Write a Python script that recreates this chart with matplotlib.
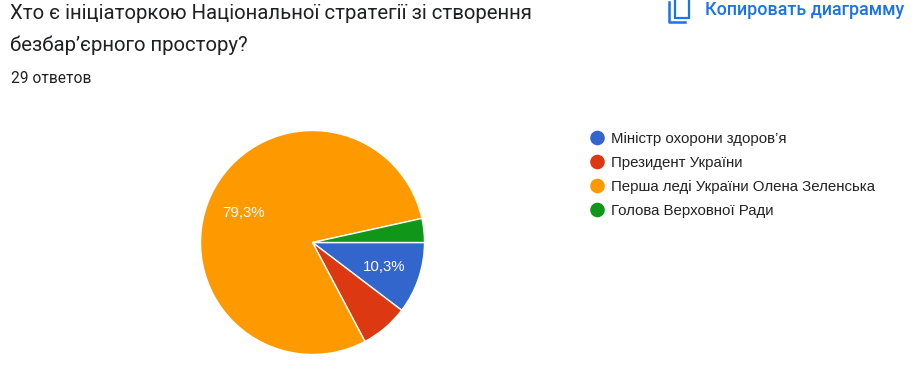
import matplotlib
matplotlib.use("Agg")
import matplotlib.pyplot as plt
from matplotlib.patches import Rectangle, Circle

categories = ["Міністр охорони здоров’я", "Президент України", "Перша леді України Олена Зеленська", "Голова Верховної Ради"]
counts = [3, 2, 23, 1]
colors = ["#3366CC", "#DC3912", "#FF9900", "#109618"]
labels = ["10,3%", "", "79,3%", ""]
title_lines = ["Хто є ініціаторкою Національної стратегії зі створення", "безбар’єрного простору?"]
subtitle = "29 ответов"
link_text = "Копировать диаграмму"

W, H = 920, 389
fig = plt.figure(figsize=(W/100, H/100), dpi=100)

cx, cy, r = 312.5, 242.5, 112
ax = fig.add_axes([(cx-r)/W, 1-(cy+r)/H, 2*r/W, 2*r/H])
wedges, _ = ax.pie(counts, colors=colors, startangle=0, counterclock=False, radius=1,
                   wedgeprops=dict(edgecolor="white", linewidth=1))
ax.set_xlim(-1, 1); ax.set_ylim(-1, 1); ax.set_aspect("equal")

bg = fig.add_axes([0, 0, 1, 1])
bg.set_xlim(0, W); bg.set_ylim(H, 0); bg.axis("off"); bg.patch.set_alpha(0)

bg.text(244, 213, labels[2], color="white", fontsize=10.8, family="Liberation Sans", ha="center", va="center")
bg.text(384, 267, labels[0], color="white", fontsize=10.8, family="Liberation Sans", ha="center", va="center")

for y, line in zip([13, 45], title_lines):
    bg.text(10, y, line, fontsize=14.7, family="Roboto", color="#202124", va="center", ha="left")
bg.text(11, 78, subtitle, fontsize=11.2, family="Roboto", color="#202124", va="center", ha="left")
bg.text(705, 10, link_text, fontsize=12.9, family="Roboto", weight="medium", color="#1A73E8", va="center", ha="left")

# copy icon
bg.add_patch(Rectangle((675, -3), 14, 21, fill=False, ec="#1A73E8", lw=1.6))
bg.plot([669, 669, 685], [2, 22, 22], color="#1A73E8", lw=1.8)

for y, c, t in zip([138, 162, 186, 210], colors, categories):
    bg.add_patch(Circle((597.5, y), 7.3, color=c, lw=0))
    bg.text(611, y + 0.5, t, fontsize=10.85, family="Liberation Sans", color="#222222", va="center", ha="left")

fig.savefig("out.png", dpi=100, facecolor="white")
